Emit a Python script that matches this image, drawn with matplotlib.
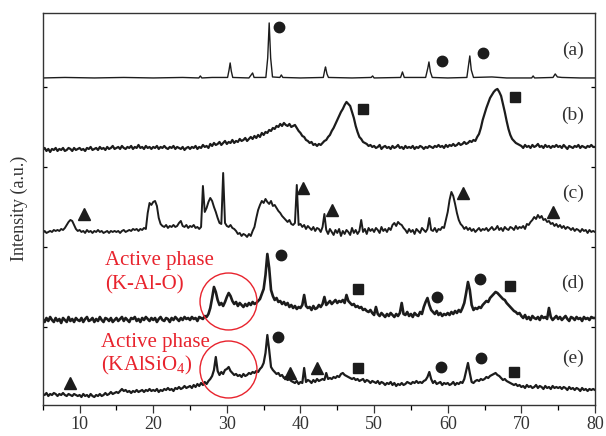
import numpy as np
import matplotlib
matplotlib.use("Agg")
from matplotlib import pyplot as plt

plt.rcParams['font.family'] = ['Liberation Serif', 'DejaVu Serif']
plt.rcParams['mathtext.fontset'] = 'custom'
plt.rcParams['mathtext.rm'] = 'Liberation Serif'

# 2-theta scan grid (step 0.25 deg) for the noisy patterns
two_theta = np.arange(5, 80.001, 0.25)

# (a) clean pattern: (2theta, intensity) points
pattern_a = [(5, 0), (8, 0.5), (12, 0), (16, 0.5), (20, 0), (24, 0.5), (26.2, 0), (26.4, 2), (26.6, 0),
             (28, 0.5), (30.1, 0.5), (30.3, 8), (30.45, 15), (30.6, 7), (30.8, 0.5), (33.0, 0), (33.3, 3),
             (33.5, 5), (33.7, 0.5), (35.3, 0.5), (35.55, 20), (35.75, 55), (35.95, 20), (36.2, 1),
             (37.2, 0.5), (37.4, 3), (37.6, 0.5), (40, 0), (43.1, 0.5), (43.3, 8), (43.4, 11), (43.6, 4),
             (43.8, 0.5), (47, 0), (49.6, 0.5), (49.8, 2), (50, 0), (53.6, 0.5), (53.85, 6), (54.1, 0.5),
             (57.0, 0.5), (57.3, 10), (57.45, 16), (57.65, 6), (57.9, 0.5), (60, 0), (62.6, 0.5),
             (62.85, 14), (63.0, 22), (63.2, 8), (63.5, 0.5), (66, 1), (68, 0), (71.4, 0), (71.6, 2),
             (71.8, 0), (74.3, 0.5), (74.6, 4), (74.9, 1), (75.5, 0.5), (78, 0), (80, 0)]

pattern_b = [
    0, 2, -1, 1, -2, 1, 0, 2, -1, 1, 0, 2, -1, 0, 2, 1, -1, 2, 0, 1,
    2, 0, 1, -1, 2, 1, 3, 0, 1, 2, 0, 3, 1, 2, 0, 3, 1, 2, 4, 1,
    2, 3, 1, 4, 2, 1, 3, 2, 4, 1, 3, 2, 5, 2, 3, 1, 4, 2, 3, 1,
    3, 2, 4, 1, 3, 2, 4, 2, 1, 3, 2, 4, 1, 3, 2, 1, 3, 0, 2, 3,
    1, 3, 2, 4, 1, 3, 2, 5, 3, 4, 2, 6, 4, 7, 5, 6, 8, 5, 7, 9,
    6, 8, 7, 10, 7, 9, 8, 11, 9, 10, 12, 9, 11, 13, 11, 14, 12, 15, 13, 17,
    15, 18, 17, 20, 19, 22, 21, 24, 23, 26, 24, 27, 25, 24, 26, 23, 24, 25, 22, 19,
    17, 14, 13, 10, 9, 7, 8, 5, 6, 4, 6, 5, 7, 9, 10, 13, 15, 19, 22, 26,
    30, 34, 38, 41, 45, 48, 46, 44, 38, 32, 24, 18, 13, 11, 8, 7, 6, 4, 5, 3,
    4, 2, 3, 5, 1, 3, 4, 2, 3, 1, 4, 2, 3, 5, 2, 3, 1, 4, 2, 3,
    2, 4, 1, 3, 2, 4, 3, 1, 3, 2, 4, 3, 2, 4, 3, 5, 3, 4, 2, 5,
    3, 5, 4, 6, 4, 5, 7, 5, 6, 8, 6, 7, 9, 8, 10, 9, 13, 16, 22, 30,
    36, 42, 47, 52, 55, 58, 60, 61, 58, 54, 46, 38, 29, 21, 15, 11, 9, 7, 6, 5,
    4, 2, 5, 3, 4, 2, 5, 3, 4, 6, 3, 4, 2, 5, 3, 4, 2, 4, 3, 5,
    3, 4, 2, 5, 3, 1, 4, 3, 2, 4, 3, 5, 2, 4, 3, 2, 4, 3, 5, 3,
    3]

pattern_c = [
    -1, 1, -1, 0, 1, 0, 2, 1, 2, 1, 3, 2, 4, 7, 10, 12, 11, 7, 3, 1,
    2, 0, 1, -1, 2, 0, 1, -1, 1, 0, 2, 0, 1, -1, 0, 1, -1, 1, 0, 1,
    0, 1, -1, 1, 2, 0, 1, 2, 1, 3, 2, 3, 1, 3, 2, 4, 3, 19, 29, 27,
    30, 31, 26, 14, 8, 6, 5, 7, 4, 6, 5, 7, 5, 6, 9, 11, 6, 5, 7, 4,
    6, 5, 7, 4, 5, 3, 5, 46, 20, 24, 30, 34, 31, 25, 20, 14, 9, 8, 59, 9,
    6, 5, 7, 4, 3, 1, -2, -1, -4, -2, -3, -5, -2, -4, 1, 5, 14, 22, 27, 31,
    29, 33, 30, 28, 31, 26, 27, 24, 21, 19, 16, 14, 12, 10, 12, 8, 7, 9, 47, 7,
    8, 5, 7, 3, 6, 4, 2, 5, 1, 4, 3, 0, 5, 18, 2, -2, 3, 0, -3, 2,
    -1, 3, -4, 1, -2, 2, 0, -3, 4, -1, 2, -2, 1, 12, 0, 3, -2, 4, 1, 3,
    0, 4, 2, -1, 5, 1, 3, 0, 4, 2, 7, 9, 6, 10, 8, 7, 4, 2, -1, 3,
    0, 2, -2, 3, 1, -1, 4, 2, 0, 3, 14, 2, 1, 4, 0, 3, 2, 5, 4, 12,
    20, 32, 40, 36, 28, 19, 12, 8, 6, 3, 5, 2, 4, 1, 3, 0, 2, 4, 1, 3,
    2, 4, 1, 3, 5, 2, 3, 6, 2, 4, 1, 5, 3, 2, 5, 4, 2, 6, 3, 5,
    4, 6, 3, 8, 7, 10, 12, 15, 13, 17, 14, 16, 12, 13, 10, 11, 8, 9, 6, 8,
    5, 7, 4, 6, 3, 5, 4, 2, 4, 1, 3, 2, 0, 3, 1, 2, -1, 2, 0, 1,
    0]

pattern_d = [
    1, -2, 2, -1, 3, 0, -2, 2, -1, 1, -3, 2, 0, -2, 3, -1, 1, -2, 2, 0,
    -1, 2, -2, 1, 3, -1, 0, 2, -2, 1, -1, 3, 0, -2, 2, 1, -1, 2, -2, 0,
    2, -1, 1, 3, -1, 2, 0, -2, 2, 1, 3, -1, 1, -2, 2, 0, 3, 1, -1, 2,
    0, 2, -2, 1, 3, 0, -1, 2, 1, -2, 2, 0, 3, 1, -1, 2, 0, 3, 1, 2,
    0, 3, 1, 2, -1, 3, 2, 1, 4, 3, 6, 12, 22, 33, 28, 20, 15, 17, 14, 18,
    23, 27, 24, 19, 16, 18, 14, 17, 15, 13, 16, 14, 17, 15, 18, 16, 17, 19, 21, 26,
    31, 45, 66, 52, 30, 24, 20, 22, 18, 19, 16, 18, 15, 17, 13, 15, 12, 14, 11, 13,
    12, 15, 25, 14, 12, 13, 10, 14, 11, 12, 15, 13, 16, 23, 15, 17, 19, 16, 18, 20,
    17, 19, 18, 20, 17, 25, 19, 17, 15, 16, 13, 14, 12, 13, 10, 11, 9, 8, 10, 7,
    5, 13, 6, 4, 7, 5, 3, 6, 4, 7, 5, 3, 6, 4, 7, 17, 6, 5, 8, 4,
    6, 3, 7, 5, 4, 8, 6, 13, 18, 22, 15, 10, 8, 6, 9, 5, 7, 4, 6, 5,
    7, 5, 8, 6, 9, 7, 10, 8, 12, 17, 27, 38, 30, 15, 10, 12, 11, 13, 12, 15,
    17, 19, 18, 22, 24, 26, 28, 27, 25, 23, 21, 20, 17, 15, 13, 11, 9, 8, 6, 7,
    4, 2, 5, 1, 3, 0, 4, 2, 1, 3, 0, 4, 2, 3, 1, 12, 3, 0, 2, 4,
    1, 3, 0, 2, 4, 1, -1, 3, 2, 0, 3, 1, 2, -1, 3, 1, 2, 0, 3, 2,
    2]

pattern_e = [
    1, 0, 2, -1, 1, 0, 2, 1, -1, 1, 0, 2, 0, -1, 1, 0, -1, 1, 0, -1,
    0, -2, 1, -1, 0, -2, 1, -1, -2, 0, -1, 1, -1, 0, 2, 0, 1, 3, 1, 2,
    3, 2, 4, 6, 4, 5, 3, 4, 2, 4, 3, 5, 3, 4, 5, 3, 5, 4, 6, 4,
    5, 4, 6, 3, 5, 4, 6, 5, 7, 5, 6, 4, 7, 6, 8, 6, 7, 9, 7, 8,
    9, 7, 10, 8, 11, 9, 12, 10, 13, 11, 14, 16, 19, 25, 38, 24, 20, 23, 21, 25,
    26, 28, 24, 22, 20, 21, 19, 20, 18, 21, 19, 20, 22, 21, 23, 22, 24, 23, 26, 28,
    32, 42, 60, 45, 28, 25, 23, 21, 22, 19, 20, 17, 18, 15, 16, 14, 13, 12, 14, 11,
    13, 12, 27, 13, 15, 14, 12, 15, 13, 16, 14, 15, 16, 15, 22, 16, 17, 16, 18, 17,
    19, 18, 21, 22, 20, 19, 18, 17, 16, 17, 15, 16, 14, 15, 16, 13, 15, 14, 12, 14,
    13, 12, 14, 11, 13, 12, 10, 12, 11, 13, 10, 12, 9, 11, 10, 12, 10, 11, 13, 12,
    11, 13, 12, 14, 12, 13, 12, 14, 15, 18, 23, 16, 12, 14, 11, 12, 13, 10, 12, 11,
    12, 10, 11, 13, 10, 12, 11, 13, 12, 16, 24, 32, 22, 13, 12, 14, 15, 14, 16, 15,
    16, 18, 17, 19, 20, 21, 22, 20, 19, 17, 15, 16, 14, 13, 12, 11, 10, 11, 9, 10,
    8, 9, 7, 10, 8, 9, 7, 8, 10, 7, 9, 8, 6, 9, 7, 8, 6, 9, 7, 8,
    7, 8, 6, 8, 7, 5, 8, 6, 7, 5, 7, 6, 4, 7, 5, 6, 4, 6, 5, 6,
    5]

sample_labels = ['(a)', '(b)', '(c)', '(d)', '(e)']
offsets = [327, 255, 173, 85, 10]
label_y = [355, 290, 212, 122, 47]

# phase markers (2theta, stacked intensity)
circles = [(37.1, 378), (59.2, 344), (64.8, 352), (37.3, 150), (58.6, 108), (64.4, 126),
           (37.0, 68), (59.1, 38), (64.5, 47)]
squares = [(48.5, 296), (69.2, 308), (47.8, 116), (68.5, 119), (47.8, 37), (69.0, 33)]
triangles = [(10.6, 191), (40.4, 217), (44.3, 195), (62.1, 212), (74.3, 193),
             (8.7, 22), (38.6, 32), (42.2, 37)]

fig = plt.figure(figsize=(6.06, 4.36), dpi=100)
ax = fig.add_axes([0.0706, 0.0711, 0.9112, 0.8999])

ink = '#1c1c1c'
ax_a = np.array(pattern_a)
ax.plot(ax_a[:, 0], ax_a[:, 1] + offsets[0], color=ink, lw=1.0)
widths = [1.6, 1.4, 1.9, 1.6]
for data, off, w in zip([pattern_b, pattern_c, pattern_d, pattern_e], offsets[1:], widths):
    ax.plot(two_theta, np.array(data) + off, color=ink, lw=w)

for lab, ly in zip(sample_labels, label_y):
    ax.text(77.0, ly, lab, ha='center', va='center', fontsize=14, color='#333333')

cx, cy = zip(*circles)
ax.plot(cx, cy, 'o', color=ink, ms=7.5, ls='none')
sx, sy = zip(*squares)
ax.plot(sx, sy, 's', color=ink, ms=6.5, ls='none')
tx, ty = zip(*triangles)
ax.plot(tx, ty, '^', color=ink, ms=8, ls='none')

red = '#e8232d'
ax.plot([30.2, 30.2], [103.5, 36], 'o', mfc='none', mec=red, mew=1.0, ms=41, ls='none')
ax.text(13.4, 144, 'Active phase', color=red, fontsize=15, va='center', ha='left')
ax.text(13.4, 120, '(K-Al-O)', color=red, fontsize=15, va='center', ha='left')
ax.text(12.9, 62, 'Active phase', color=red, fontsize=15, va='center', ha='left')
ax.text(12.9, 40, r'(KAlSiO$\mathregular{_4}$)', color=red, fontsize=15, va='center', ha='left')

ax.set_xlim(5, 80)
ax.set_ylim(0, 392.3)
ax.set_xticks(np.arange(10, 81, 10))
ax.set_xticks(np.arange(5, 81, 5), minor=True)
ax.set_yticks([78, 158, 238, 318])
ax.set_yticklabels([])
ax.tick_params(axis='x', which='major', direction='out', length=6, width=0.9, labelsize=13, pad=2, colors='#333333')
ax.tick_params(axis='x', which='minor', direction='out', length=3.3, width=0.9)
ax.tick_params(axis='y', direction='in', length=3, width=0.9, left=True, right=True)
for s in ax.spines.values():
    s.set_color('#333333')
    s.set_linewidth(1.0)
ax.set_ylabel('Intensity (a.u.)', fontsize=13, labelpad=7, color='#333333')

fig.savefig('out.png', dpi=100)
